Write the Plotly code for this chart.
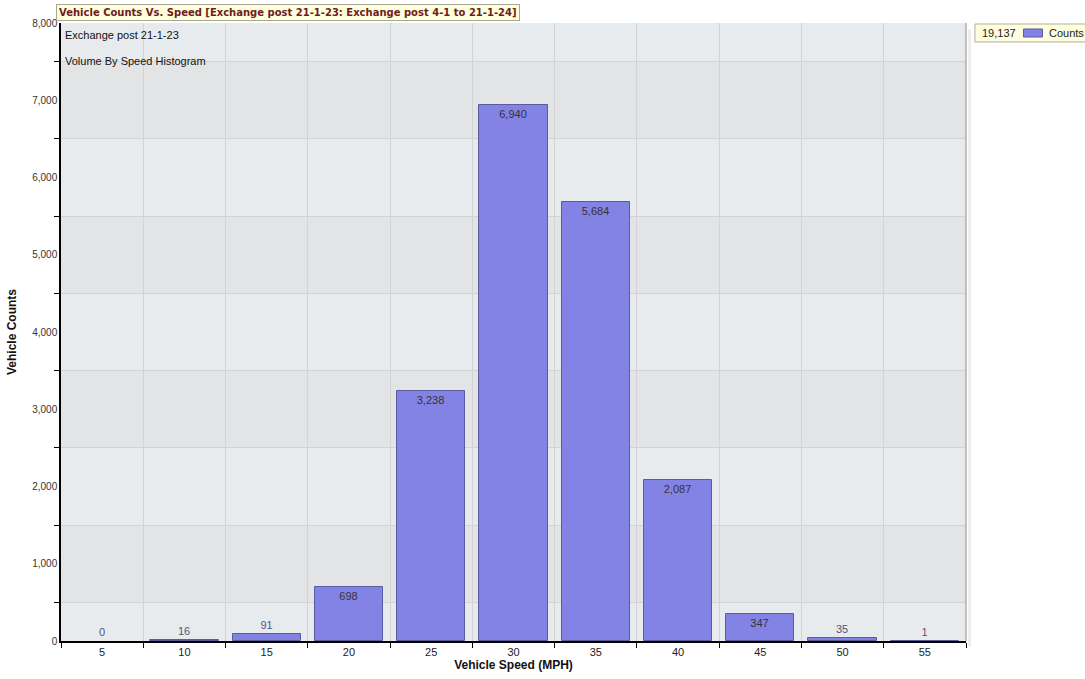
import plotly.graph_objects as go

# data
speeds = [5, 10, 15, 20, 25, 30, 35, 40, 45, 50, 55]
counts = [0, 16, 91, 698, 3238, 6940, 5684, 2087, 347, 35, 1]
total = 19137
title_text = "Vehicle Counts Vs. Speed [Exchange post 21-1-23: Exchange post 4-1 to 21-1-24]"
subtitle_1 = "Exchange post 21-1-23"
subtitle_2 = "Volume By Speed Histogram"
y_ticks = list(range(0, 8001, 1000))

BAR_COLOR = "#8383e6"
BAR_LINE = "#5b5ba0"

# small bars get their label above the bar
label_pos = ["inside" if c >= 300 else "outside" for c in counts]
label_col = ["#333333" if c >= 300 else "#55557a" for c in counts]
line_w = [1 if c > 0 else 0 for c in counts]

fig = go.Figure()
fig.add_trace(go.Bar(
    x=speeds,
    y=counts,
    name="Counts",
    width=4.15,
    marker=dict(color=BAR_COLOR, line=dict(color=BAR_LINE, width=line_w)),
    text=[f"{c:,}" for c in counts],
    textposition=label_pos,
    insidetextanchor="end",
    textfont=dict(family="Liberation Sans, Arial", size=11, color=label_col),
    cliponaxis=False,
    showlegend=False,
))

# alternating background bands, 1000 wide, offset by 500
shapes = []
for lo in range(500, 8000, 2000):
    shapes.append(dict(type="rect", xref="paper", yref="y", x0=0, x1=1, y0=lo, y1=lo + 1000,
                       fillcolor="#e3e4e6", line=dict(width=0), layer="below"))
# right border of the plot area, with a soft shadow
shapes.append(dict(type="line", xref="paper", yref="paper", x0=1.004, x1=1.004, y0=-0.008, y1=0.99,
                   line=dict(color="#ededed", width=3)))
shapes.append(dict(type="line", xref="paper", yref="paper", x0=1, x1=1, y0=0, y1=1,
                   line=dict(color="#8c8c8c", width=1)))
# legend box (total + swatch + series name)
shapes.append(dict(type="rect", xref="paper", yref="paper", x0=1.0099, x1=1.14, y0=0.9693, y1=0.9984,
                   fillcolor="#ffffe0", line=dict(color="#b0b098", width=1)))
shapes.append(dict(type="rect", xref="paper", yref="paper", x0=1.0635, x1=1.0845, y0=0.9773, y1=0.9903,
                   fillcolor=BAR_COLOR, line=dict(color=BAR_LINE, width=1)))

annotations = [
    dict(text="<b>" + title_text + "</b>", xref="paper", yref="paper", x=-0.0055, y=1.0035,
         xanchor="left", yanchor="bottom", showarrow=False, align="left",
         font=dict(family="DejaVu Sans", size=10, color="#6e1c1c"),
         bgcolor="#ffffe0", bordercolor="#a8a890", borderwidth=1, borderpad=2),
    dict(text=subtitle_1, xref="paper", yref="paper", x=0.002, y=0.9806,
         xanchor="left", yanchor="middle", showarrow=False,
         font=dict(family="Liberation Sans, Arial", size=11, color="#111111")),
    dict(text=subtitle_2, xref="paper", yref="paper", x=0.002, y=0.9385,
         xanchor="left", yanchor="middle", showarrow=False,
         font=dict(family="Liberation Sans, Arial", size=11, color="#111111")),
    dict(text=f"{total:,}", xref="paper", yref="paper", x=1.0160, y=0.9838,
         xanchor="left", yanchor="middle", showarrow=False,
         font=dict(family="Liberation Sans, Arial", size=11, color="#222222")),
    dict(text="Counts", xref="paper", yref="paper", x=1.0895, y=0.9838,
         xanchor="left", yanchor="middle", showarrow=False,
         font=dict(family="Liberation Sans, Arial", size=11, color="#222222")),
]

fig.update_layout(
    width=1085,
    height=679,
    margin=dict(l=61, r=119, t=23, b=38, autoexpand=False),
    paper_bgcolor="white",
    plot_bgcolor="#e8ebee",
    font=dict(family="Liberation Sans, Arial", size=11, color="#222222"),
    bargap=0,
    shapes=shapes,
    annotations=annotations,
    showlegend=False,
    xaxis=dict(
        range=[2.5, 57.5],
        automargin=False,
        tickvals=speeds,
        ticktext=[str(s) for s in speeds],
        ticks="",
        showgrid=False,
        zeroline=False,
        showline=True, linecolor="black", linewidth=1.5,
        minor=dict(tick0=2.5, dtick=5, showgrid=True, gridcolor="#d2d3d5", gridwidth=1,
                   ticks="outside", ticklen=5, tickcolor="black"),
        title=dict(text="<b>Vehicle Speed (MPH)</b>", standoff=4,
                   font=dict(size=12, color="#111111")),
        tickfont=dict(size=11, color="#222222"),
    ),
    yaxis=dict(
        range=[0, 8000],
        automargin=False,
        tickvals=y_ticks,
        tickformat=",",
        ticks="",
        showgrid=False,
        zeroline=False,
        showline=True, linecolor="black", linewidth=1.5,
        minor=dict(tick0=500, dtick=1000, showgrid=True, gridcolor="#d2d3d5", gridwidth=1,
                   ticks="outside", ticklen=5, tickcolor="black"),
        title=dict(text="<b>Vehicle Counts</b>", standoff=13,
                   font=dict(size=12, color="#111111")),
        tickfont=dict(size=10, color="#333333"),
    ),
)

# drop the browser's default 8px body margin so the figure fills the window
fig.write_html("out.html", config={"displayModeBar": False},
               post_script="document.body.style.margin='0';")
